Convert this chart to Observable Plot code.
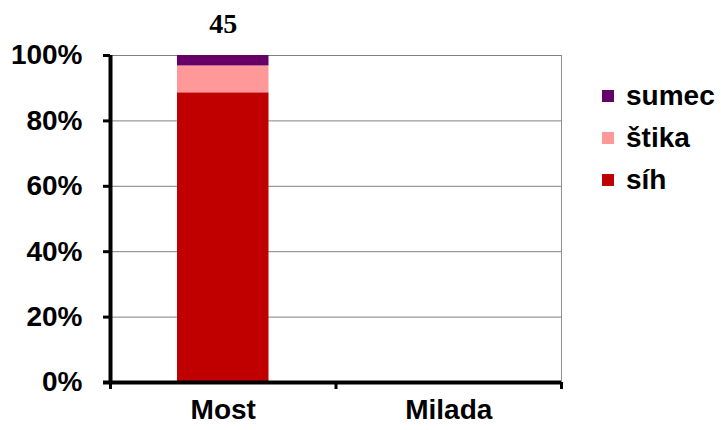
<!DOCTYPE html>
<html><head><meta charset="utf-8">
<script src="https://cdn.jsdelivr.net/npm/d3@7"></script>
<script src="https://cdn.jsdelivr.net/npm/@observablehq/plot@0.6"></script>
<style>
body{margin:0;background:#fff;}
#wrap{position:relative;width:721px;height:430px;}
#legend{position:absolute;left:602px;top:75px;font-family:"Liberation Sans",Arial,sans-serif;font-weight:bold;font-size:28px;color:#000;}
#legend .it{display:flex;align-items:center;height:42px;}
#legend .sw{width:12px;height:12px;margin-right:12px;}
</style></head>
<body><div id="wrap"><div id="legend"></div></div>
<script>
const categories = ["Most", "Milada"];
const species = ["síh", "štika", "sumec"];
const speciesColors = ["#C00000", "#FF9999", "#660066"];
const shareMost = [88.6, 8.2, 3.2];
const shareMilada = [0, 0, 0];
const totalLabels = [45, null];
const yTicks = [0, 0.2, 0.4, 0.6, 0.8, 1];

const sharesByCat = [shareMost, shareMilada];
const rows = [];
categories.forEach((c, i) => species.forEach((s, j) => {
  const v = sharesByCat[i][j];
  if (v > 0) rows.push({cat: c, i, species: s, v});
}));
const totals = categories.map((c, i) => ({cat: c, i, total: totalLabels[i]})).filter(d => d.total != null);

const font = "'Liberation Sans', Arial, sans-serif";
const chart = Plot.plot({
  width: 721, height: 430,
  marginLeft: 110, marginRight: 160, marginTop: 55, marginBottom: 48,
  style: {fontFamily: font, fontWeight: "bold", fontSize: "28px", color: "#000", background: "#fff", overflow: "visible"},
  x: {type: "linear", domain: [0, categories.length]},
  y: {domain: [0, 1]},
  color: {domain: species, range: speciesColors},
  marks: [
    Plot.gridY(yTicks, {stroke: "#808080", strokeOpacity: 1, strokeWidth: 1}),
    Plot.ruleX([categories.length], {stroke: "#909090", strokeWidth: 1}),
    Plot.rectY(rows, Plot.stackY({x: "i", x1: d => d.i, x2: d => d.i + 1, y: "v", fill: "species", offset: "normalize", insetLeft: 67, insetRight: 67})),
    Plot.axisY(yTicks, {tickFormat: d => Math.round(d * 100) + "%", tickSize: 7, tickPadding: 21, strokeWidth: 3, label: null, fontSize: 28}),
    Plot.axisX([0, 1, 2], {tickFormat: () => "", tickSize: 7, strokeWidth: 3, label: null}),
    Plot.axisX(categories.map((c, i) => i + 0.5), {tickFormat: d => categories[Math.floor(d)], tickSize: 0, tickPadding: 17, label: null, fontSize: 28}),
    Plot.ruleX([0], {stroke: "#000", strokeWidth: 4}),
    Plot.ruleY([0], {stroke: "#000", strokeWidth: 4, insetLeft: -7}),
    Plot.text(totals, {x: d => d.i + 0.5, y: () => 1, text: d => String(d.total), dy: -31, fontFamily: "'Liberation Serif', 'Times New Roman', serif", fontSize: 28, fontWeight: "bold"})
  ]
});
document.getElementById("wrap").prepend(chart);
const leg = document.getElementById("legend");
species.slice().reverse().forEach(s => {
  const j = species.indexOf(s);
  const it = document.createElement("div"); it.className = "it";
  it.innerHTML = `<div class="sw" style="background:${speciesColors[j]}"></div><span>${s}</span>`;
  leg.appendChild(it);
});
</script></body></html>
